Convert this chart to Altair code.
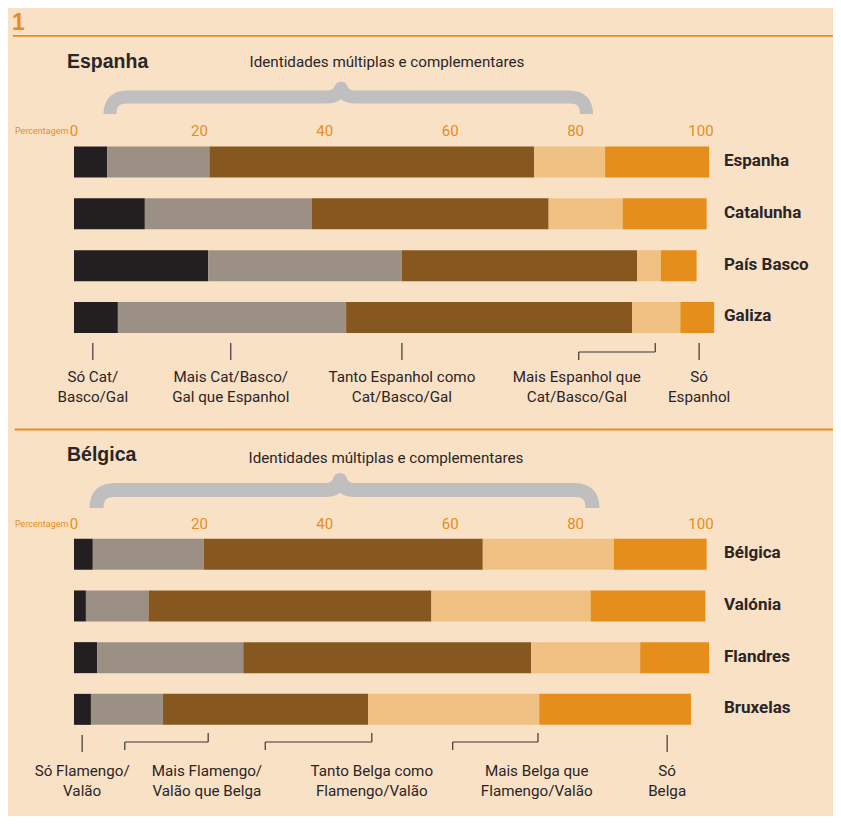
import altair as alt
import pandas as pd

# ---------------- data ----------------
segments = ["Só regional", "Mais regional", "Tanto um como outro", "Mais nacional", "Só nacional"]
segment_colors = ["#231F20", "#9C9084", "#86581F", "#F1C184", "#E68E1B"]

spain_regions = ["Espanha", "Catalunha", "País Basco", "Galiza"]
spain_values = [
    [5.3, 16.3, 51.8, 11.3, 16.6],
    [11.3, 26.6, 37.8, 11.8, 13.4],
    [21.4, 30.9, 37.5, 3.8, 5.7],
    [7.0, 36.4, 45.6, 7.7, 5.4],
]

belgium_regions = ["Bélgica", "Valónia", "Flandres", "Bruxelas"]
belgium_values = [
    [3.0, 17.7, 44.5, 20.9, 14.8],
    [1.9, 10.0, 45.1, 25.4, 18.3],
    [3.7, 23.3, 45.9, 17.4, 11.0],
    [2.7, 11.5, 32.7, 27.3, 24.2],
]

tick_values = [0, 20, 40, 60, 80, 100]

spain_labels = ["Só Cat/\nBasco/Gal", "Mais Cat/Basco/\nGal que Espanhol",
                "Tanto Espanhol como\nCat/Basco/Gal", "Mais Espanhol que\nCat/Basco/Gal",
                "Só\nEspanhol"]
spain_label_pos = [3.0, 25.0, 52.3, 80.2, 99.7]
spain_ticks = [3.0, 25.0, 52.3, 99.7]
spain_brackets = [[80.5, 92.7]]

belgium_labels = ["Só Flamengo/\nValão", "Mais Flamengo/\nValão que Belga",
                  "Tanto Belga como\nFlamengo/Valão", "Mais Belga que\nFlamengo/Valão",
                  "Só\nBelga"]
belgium_label_pos = [1.3, 21.2, 47.5, 73.8, 94.6]
belgium_ticks = [1.3, 94.6]
belgium_brackets = [[8.1, 21.4], [30.5, 47.5], [60.4, 74.0]]

subtitle = "Identidades múltiplas e complementares"

# ---------------- style ----------------
BG = "#F9E1C6"
ORANGE = "#E68E1B"
DARK = "#2A2526"
GREY = "#BFBFBF"
NARROW = "Roboto, sans-serif"
WIDE = "Liberation Sans, Arial, sans-serif"

W, H = 825, 808
xscale = alt.Scale(domain=[0, 100], range=[66, 693])


def long_table(regions, values):
    rows = []
    for r, vals in zip(regions, values):
        start = 0.0
        for i, (s, v) in enumerate(zip(segments, vals)):
            rows.append({"region": r, "segment": s, "order": i, "start": start, "end": start + v})
            start += v
    return pd.DataFrame(rows)


def panel(regions, values, yrange, tick_y, title, title_y, sub_y, brace_path, brace_xy, brace_w,
          labels, label_pos, label_y, ticks, tick_y0, tick_y1, brackets, br_y0, br_y1, br_y2):
    df = long_table(regions, values)
    yscale = alt.Scale(domain=regions, range=yrange, paddingInner=0, paddingOuter=0)
    bars = alt.Chart(df).mark_bar(size=31).encode(
        x=alt.X("start:Q", scale=xscale, axis=None),
        x2="end:Q",
        y=alt.Y("region:N", scale=yscale, axis=None),
        color=alt.Color("segment:N", scale=alt.Scale(domain=segments, range=segment_colors), legend=None),
        order=alt.Order("order:Q"),
    )
    names = alt.Chart(pd.DataFrame({"region": regions})).mark_text(
        align="left", baseline="middle", font=NARROW, fontWeight="bold", fontSize=17, color=DARK, dy=-1
    ).encode(
        x=alt.value(716),
        y=alt.Y("region:N", scale=yscale, axis=None),
        text="region:N",
    )
    tick_lbl = alt.Chart(pd.DataFrame({"v": tick_values})).mark_text(
        baseline="alphabetic", font=NARROW, fontSize=15, color=ORANGE
    ).encode(
        x=alt.X("v:Q", scale=xscale, axis=None),
        y=alt.value(tick_y),
        text="v:Q",
    )
    pct = alt.Chart(pd.DataFrame({"t": ["Percentagem"]})).mark_text(
        align="left", baseline="alphabetic", font=NARROW, fontSize=9, color=ORANGE
    ).encode(x=alt.value(7), y=alt.value(tick_y - 2), text="t:N")
    ttl = alt.Chart(pd.DataFrame({"t": [title]})).mark_text(
        align="left", baseline="alphabetic", font=WIDE, fontWeight="bold", fontSize=19.5, color=DARK
    ).encode(x=alt.value(59), y=alt.value(title_y), text="t:N")
    sub = alt.Chart(pd.DataFrame({"t": [subtitle]})).mark_text(
        align="center", baseline="alphabetic", font=NARROW, fontSize=15.2, color=DARK
    ).encode(x=alt.value(brace_xy[0] + 46), y=alt.value(sub_y), text="t:N")
    brace = alt.Chart(pd.DataFrame({"t": [1]})).mark_point(
        shape=brace_path, size=250000, filled=False, stroke=GREY, strokeWidth=brace_w,
        strokeCap="butt", strokeJoin="round", opacity=1
    ).encode(x=alt.value(brace_xy[0]), y=alt.value(brace_xy[1]))
    lab = alt.Chart(pd.DataFrame({"t": labels, "p": label_pos})).mark_text(
        align="center", baseline="alphabetic", font=NARROW, fontSize=15.2, color=DARK,
        lineBreak="\n", lineHeight=20
    ).encode(x=alt.X("p:Q", scale=xscale, axis=None), y=alt.value(label_y), text="t:N")
    segs = []
    for t in ticks:
        segs.append({"x": t, "x2": t, "y": tick_y0, "y2": tick_y1})
    for a, b in brackets:
        segs.append({"x": b, "x2": b, "y": br_y0, "y2": br_y1})
        segs.append({"x": a, "x2": b, "y": br_y1, "y2": br_y1})
        segs.append({"x": a, "x2": a, "y": br_y1, "y2": br_y2})
    rules = alt.Chart(pd.DataFrame(segs)).mark_rule(color="#3A3536", strokeWidth=1.2).encode(
        x=alt.X("x:Q", scale=xscale, axis=None), x2="x2:Q",
        y=alt.Y("y:Q", scale=None, axis=None), y2="y2:Q",
    )
    return [bars, names, tick_lbl, pct, ttl, sub, brace, lab, rules]


brace_es = ("M -0.924 0.068 Q -0.924 0 -0.856 0 L -0.06 0 Q -0.01 0 0 -0.036 "
            "Q 0.01 0 0.06 0 L 0.914 0 Q 0.982 0 0.982 0.068")
brace_be = ("M -0.974 0.072 Q -0.974 0 -0.902 0 L -0.06 0 Q -0.01 0 0 -0.04 "
            "Q 0.01 0 0.06 0 L 0.938 0 Q 1.01 0 1.01 0.072")

es = panel(spain_regions, spain_values, [128.1, 335.4], 128, "Espanha", 60, 59,
           brace_es, (333, 89), 13, spain_labels, spain_label_pos, 374,
           spain_ticks, 335, 352, spain_brackets, 335, 344, 352)
be = panel(belgium_regions, belgium_values, [520.4, 727.2], 521, "Bélgica", 453, 455,
           brace_be, (332, 482), 14, belgium_labels, belgium_label_pos, 768,
           belgium_ticks, 727, 744, belgium_brackets, 725, 734, 742)

one = alt.Chart(pd.DataFrame({"t": ["1"]})).mark_text(
    align="left", baseline="alphabetic", font=WIDE, fontWeight="bold", fontSize=23, color=ORANGE
).encode(x=alt.value(4), y=alt.value(22), text="t:N")

lines = alt.Chart(pd.DataFrame({"y": [27.8, 421.5], "x0": [4.7, 6.7]})).mark_rule(
    color=ORANGE, strokeWidth=1.8
).encode(
    x=alt.X("x0:Q", scale=None, axis=None), x2=alt.value(W),
    y=alt.Y("y:Q", scale=None, axis=None),
)

chart = alt.layer(one, lines, *es, *be).resolve_scale(y="independent").properties(
    width=W, height=H, background=BG, padding=0,
    autosize=alt.AutoSizeParams(type="none"),
).configure_view(stroke=None)

chart.save("out.html", embed_options={"renderer": "svg", "actions": False})
